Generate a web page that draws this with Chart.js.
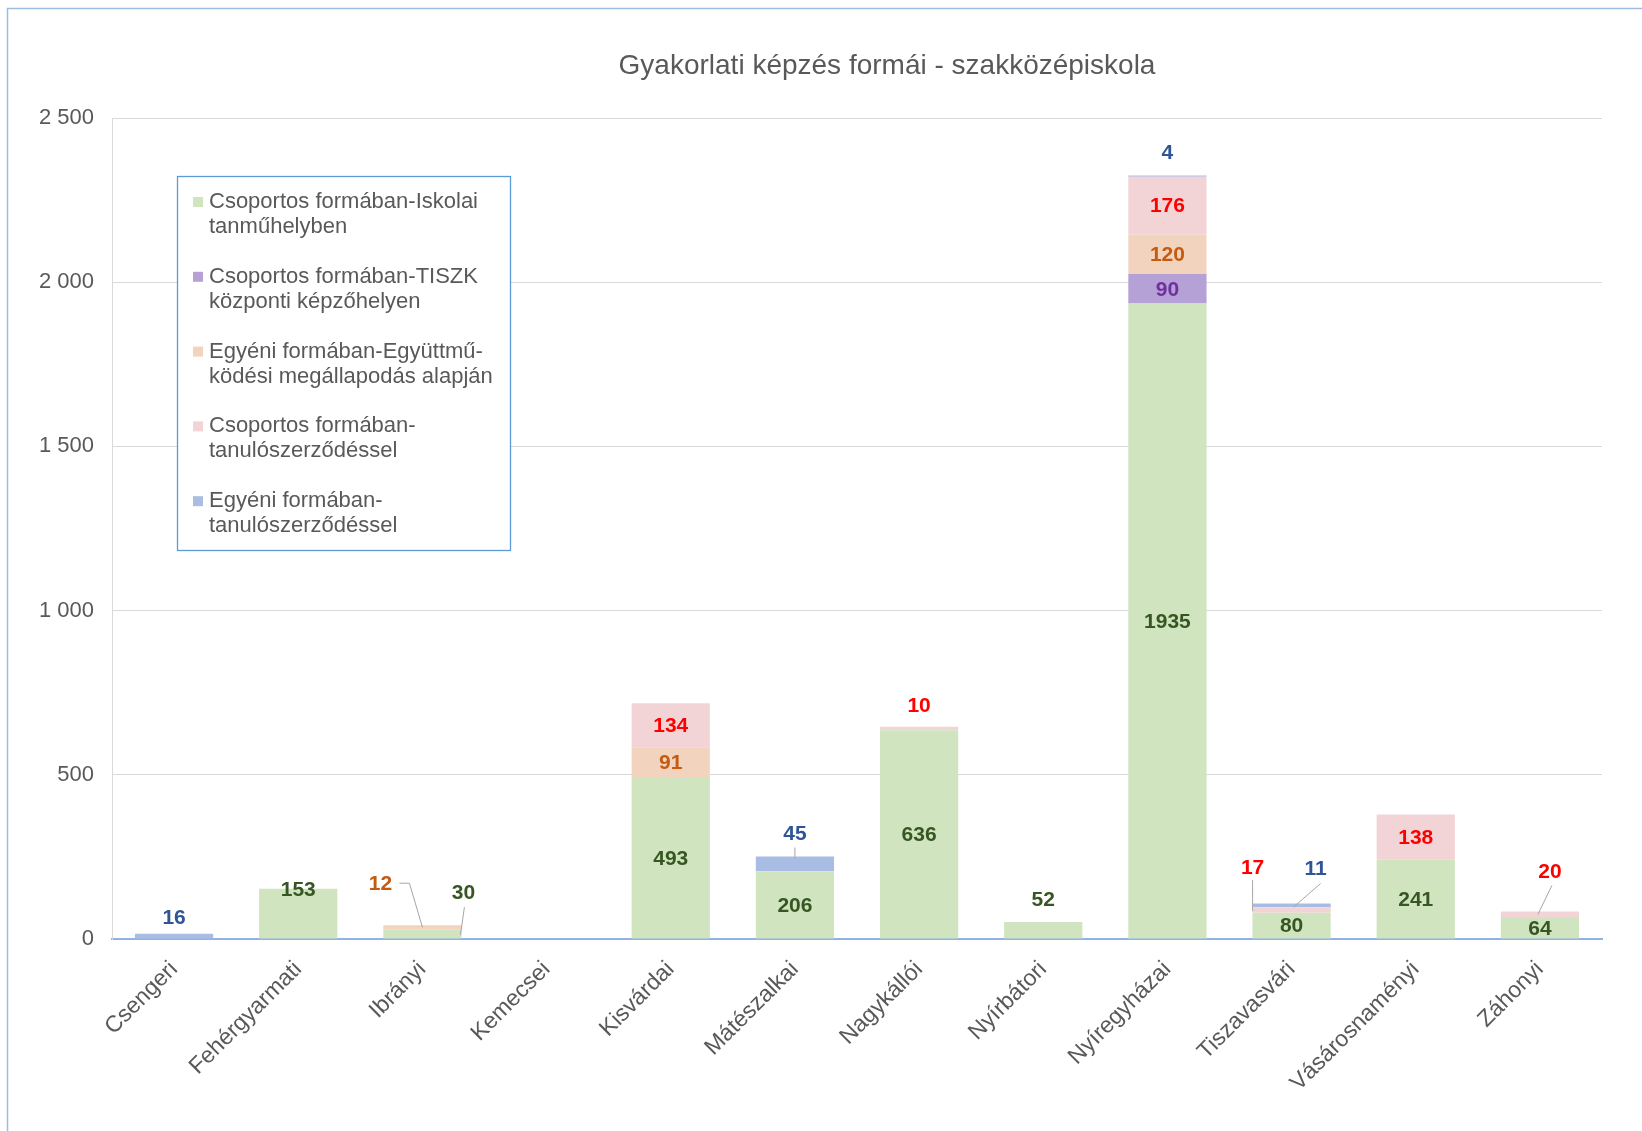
<!DOCTYPE html>
<html lang="hu">
<head>
<meta charset="utf-8">
<title>Gyakorlati képzés formái - szakközépiskola</title>
<script src="https://cdn.jsdelivr.net/npm/chart.js@4.4.1/dist/chart.umd.min.js"></script>
<style>
    html, body { margin: 0; padding: 0; background: #fff; }
    #wrap { width: 1642px; height: 1131px; position: relative; }
</style>
</head>
<body>
<div id="wrap"><canvas id="chart"></canvas></div>
<script>
// Adatok - a diagramról leolvasva
const chartTitle = 'Gyakorlati képzés formái - szakközépiskola';

const categories = ['Csengeri', 'Fehérgyarmati', 'Ibrányi', 'Kemecsei', 'Kisvárdai', 'Mátészalkai',
    'Nagykállói', 'Nyírbátori', 'Nyíregyházai', 'Tiszavasvári', 'Vásárosnaményi', 'Záhonyi'];

const seriesNames = [
    'Csoportos formában-Iskolai\ntanműhelyben',
    'Csoportos formában-TISZK\nközponti képzőhelyen',
    'Egyéni formában-Együttmű-\nködési megállapodás alapján',
    'Csoportos formában-\ntanulószerződéssel',
    'Egyéni formában-\ntanulószerződéssel'
];

const iskolaiTanmuhely = [0, 153, 30, 0, 493, 206, 636, 52, 1935, 80, 241, 64];
const tiszkKepzohely = [0, 0, 0, 0, 0, 0, 0, 0, 90, 0, 0, 0];
const egyuttmukodesi = [0, 0, 12, 0, 91, 0, 0, 0, 120, 0, 0, 0];
const csoportosSzerzodes = [0, 0, 0, 0, 134, 0, 10, 0, 176, 17, 138, 20];
const egyeniSzerzodes = [16, 0, 0, 0, 0, 45, 0, 0, 4, 11, 0, 0];

const yTicks = [0, 500, 1000, 1500, 2000, 2500];

// Stílusok
const FONT = '"Liberation Sans", Arial, sans-serif';
const TEXT_GRAY = '#595959';
const fillColors = ['#CFE4BF', '#B5A1D6', '#F2D3BE', '#F3D4D6', '#A9BDE4'];
const labelColors = ['#375623', '#7030A0', '#C55A11', '#FF0000', '#2F5597'];

// Kiemelt (nem középre írt) feliratok: eltolás a szegmens tetejének közepétől, vezetővonal pontjai
const callouts = {
    '4:0': { dx: 0, dy: -17 },
    '0:1': { dx: 0, dy: 0 },
    '2:2': { dx: -42, dy: -42, line: [[-23, -42], [-13, -42], [0, 2]] },
    '0:2': { dx: 41, dy: -37, line: [[42, -22], [38, 6]] },
    '4:5': { dx: 0, dy: -23, line: [[0, -9], [0, 2]] },
    '3:6': { dx: 0, dy: -22 },
    '0:7': { dx: 0, dy: -23 },
    '4:8': { dx: 0, dy: -23 },
    '3:9': { dx: -39, dy: -40, line: [[-39, -27], [-39, 4]] },
    '4:9': { dx: 24, dy: -35, line: [[29, -20], [2, 3.5]] },
    '3:11': { dx: 10, dy: -40, line: [[12, -26], [-2, 3]] }
};

function formatThousands(v) {
    return String(v).replace(/\B(?=(\d{3})+(?!\d))/g, ' ');
}

// Cím - a referencián kissé jobbra tolva
const titleText = {
    id: 'titleText',
    afterDraw(chart) {
        const ctx = chart.ctx;
        ctx.save();
        ctx.font = '28px ' + FONT;
        ctx.fillStyle = TEXT_GRAY;
        ctx.textAlign = 'center';
        ctx.textBaseline = 'middle';
        ctx.fillText(chartTitle, 887, 66);
        ctx.restore();
    }
};

// Adatfeliratok rajzolása
const valueLabels = {
    id: 'valueLabels',
    afterDatasetsDraw(chart) {
        const ctx = chart.ctx;
        ctx.save();
        ctx.font = 'bold 21px ' + FONT;
        ctx.textAlign = 'center';
        ctx.textBaseline = 'middle';
        chart.data.datasets.forEach((ds, di) => {
            const meta = chart.getDatasetMeta(di);
            meta.data.forEach((bar, i) => {
                const v = ds.data[i];
                if (!v) return;
                const c = callouts[di + ':' + i];
                let x = bar.x, y = (bar.y + bar.base) / 2;
                if (c) {
                    x = bar.x + c.dx;
                    y = bar.y + c.dy;
                    if (c.line) {
                        ctx.strokeStyle = '#A6A6A6';
                        ctx.lineWidth = 1;
                        ctx.beginPath();
                        c.line.forEach((p, k) => {
                            if (k === 0) ctx.moveTo(bar.x + p[0], bar.y + p[1]);
                            else ctx.lineTo(bar.x + p[0], bar.y + p[1]);
                        });
                        ctx.stroke();
                    }
                }
                ctx.fillStyle = labelColors[di];
                ctx.fillText(String(v), x, y + 1);
            });
        });
        ctx.restore();
    }
};

// Jelmagyarázat doboz a rajzterületen belül, tördelt szöveggel
const boxLegend = {
    id: 'boxLegend',
    afterDraw(chart) {
        const ctx = chart.ctx;
        const left = 177, top = 176, w = 333, h = 374;
        ctx.save();
        ctx.fillStyle = '#fff';
        ctx.fillRect(left, top, w, h);
        ctx.strokeStyle = '#5B9BD5';
        ctx.lineWidth = 1.3;
        ctx.strokeRect(left + 0.5, top + 0.5, w, h);
        ctx.font = '22px ' + FONT;
        ctx.textBaseline = 'middle';
        ctx.textAlign = 'left';
        chart.data.datasets.forEach((ds, di) => {
            const y0 = top + 26 + di * 74.8;
            ctx.fillStyle = ds.backgroundColor;
            ctx.fillRect(left + 16, y0 - 5, 10, 10);
            ctx.fillStyle = TEXT_GRAY;
            ds.label.split('\n').forEach((line, k) => {
                ctx.fillText(line, left + 32, y0 + k * 25);
            });
        });
        ctx.restore();
    }
};

// Külső keret
const outerFrame = {
    id: 'outerFrame',
    beforeDraw(chart) {
        const ctx = chart.ctx;
        ctx.save();
        ctx.fillStyle = '#fff';
        ctx.fillRect(0, 0, chart.width, chart.height);
        ctx.strokeStyle = '#9DBDE3';
        ctx.lineWidth = 1.5;
        ctx.strokeRect(7.5, 8.5, chart.width + 20, chart.height + 20);
        ctx.restore();
    }
};

const datasetValues = [iskolaiTanmuhely, tiszkKepzohely, egyuttmukodesi, csoportosSzerzodes, egyeniSzerzodes];

new Chart(document.getElementById('chart'), {
    type: 'bar',
    data: {
        labels: categories,
        datasets: datasetValues.map((vals, i) => ({
            label: seriesNames[i],
            data: vals,
            backgroundColor: fillColors[i],
            borderWidth: 0,
            barPercentage: 0.63,
            categoryPercentage: 1
        }))
    },
    options: {
        responsive: true,
        maintainAspectRatio: false,
        animation: false,
        layout: { padding: { top: 118, right: 40, bottom: 0, left: 0 } },
        plugins: {
            legend: { display: false },
            tooltip: { enabled: false },
            title: { display: false }
        },
        scales: {
            x: {
                stacked: true,
                grid: { display: false, drawTicks: false },
                border: { display: true, color: '#8EB4E3', width: 2 },
                ticks: {
                    color: TEXT_GRAY,
                    font: { family: FONT, size: 23 },
                    minRotation: 45,
                    maxRotation: 45,
                    padding: 17,
                    autoSkip: false
                },
                afterFit(scale) { scale.height = 192; }
            },
            y: {
                stacked: true,
                min: yTicks[0],
                max: yTicks[yTicks.length - 1],
                grid: { color: '#D9D9D9', drawTicks: false },
                border: { display: true, color: '#D9D9D9', width: 1 },
                ticks: {
                    stepSize: yTicks[1] - yTicks[0],
                    color: TEXT_GRAY,
                    font: { family: FONT, size: 22 },
                    padding: 18,
                    callback: v => formatThousands(v)
                },
                afterFit(scale) { scale.width = 112; }
            }
        }
    },
    plugins: [outerFrame, valueLabels, boxLegend, titleText]
});
</script>
</body>
</html>
